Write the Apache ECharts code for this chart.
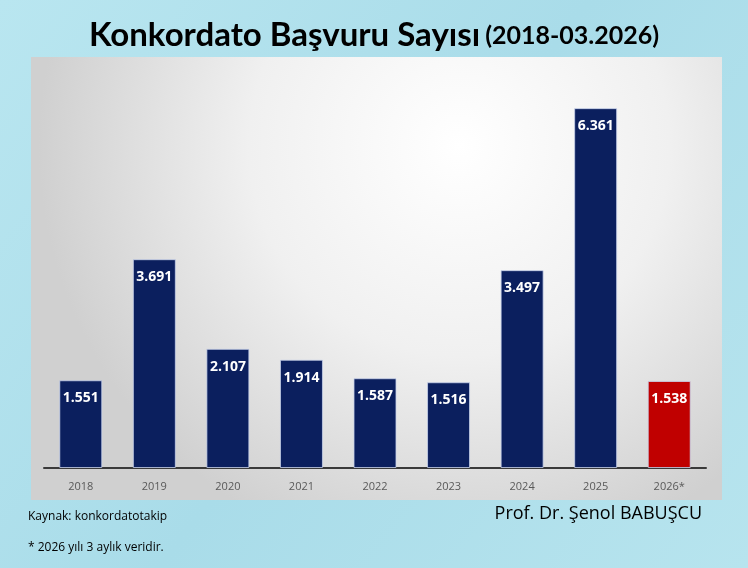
<!DOCTYPE html>
<html><head><meta charset="utf-8">
<script src="https://cdn.jsdelivr.net/npm/echarts@6/dist/echarts.min.js"></script>
<style>html,body{margin:0;padding:0;}#c{width:748px;height:568px;}</style>
</head><body><div id="c"></div>
<script>
var categories = ['2018','2019','2020','2021','2022','2023','2024','2025','2026*'];
var values = [1551, 3691, 2107, 1914, 1587, 1516, 3497, 6361, 1538];
var barColors = ['#0b1f5e','#0b1f5e','#0b1f5e','#0b1f5e','#0b1f5e','#0b1f5e','#0b1f5e','#0b1f5e','#c00000'];

function fmt(v){ return String(v).replace(/\B(?=(\d{3})+(?!\d))/g,'.'); }

var chart = echarts.init(document.getElementById('c'));
chart.setOption({
  animation:false,
  title:{
    text:'{a|Konkordato Başvuru Sayısı} {b|(2018-03.2026)}',
    left:'center', top:14,
    textStyle:{rich:{
      a:{fontFamily:'Lato',fontWeight:'bold',fontSize:33,color:'#000'},
      b:{fontFamily:'Lato',fontWeight:'bold',fontSize:25,color:'#000'}
    }}
  },
  graphic:[
    {type:'rect',z:-20,shape:{x:0,y:0,width:748,height:568},
     style:{fill:new echarts.graphic.LinearGradient(0,0,1,1,[{offset:0,color:'#b9e6f0'},{offset:0.5,color:'#a9dce9'},{offset:1,color:'#b7e4ee'}])}},
    {type:'rect',z:-19,shape:{x:31,y:57,width:691,height:443},
     style:{fill:new echarts.graphic.RadialGradient(0.62,0.2,0.95,[{offset:0,color:'#ffffff'},{offset:0.5,color:'#f0f0f0'},{offset:1,color:'#d0d0d0'}])}},
    {type:'text',z:5,left:28,top:511,style:{text:'Kaynak: konkordatotakip',font:'12px "Open Sans"',fill:'#000'}},
    {type:'text',z:5,left:28,top:542,style:{text:'* 2026 yılı 3 aylık veridir.',font:'12px "Open Sans"',fill:'#000'}},
    {type:'text',z:5,right:46,top:505,style:{text:'Prof. Dr. Şenol BABUŞCU',font:'18px "Open Sans"',fill:'#000'}}
  ],
  grid:{left:44,right:42,top:72,bottom:100},
  xAxis:{type:'category',data:categories,
    axisLine:{lineStyle:{color:'#3a3a3a',width:2}},
    axisTick:{show:false},
    axisLabel:{color:'#595959',fontSize:11,fontFamily:'Open Sans',margin:13}},
  yAxis:{type:'value',min:0,max:7000,show:false,splitLine:{show:false}},
  series:[{type:'bar',data:values.map(function(v,i){return {value:v,itemStyle:{color:barColors[i]}};}),
    barWidth:43,
    itemStyle:{borderColor:'rgba(200,210,235,0.8)',borderWidth:1},
    label:{show:true,position:'insideTop',distance:11,color:'#fff',fontWeight:'bold',fontSize:14,fontFamily:'Open Sans',
      formatter:function(p){return fmt(p.value);}}
  }]
});
</script></body></html>
